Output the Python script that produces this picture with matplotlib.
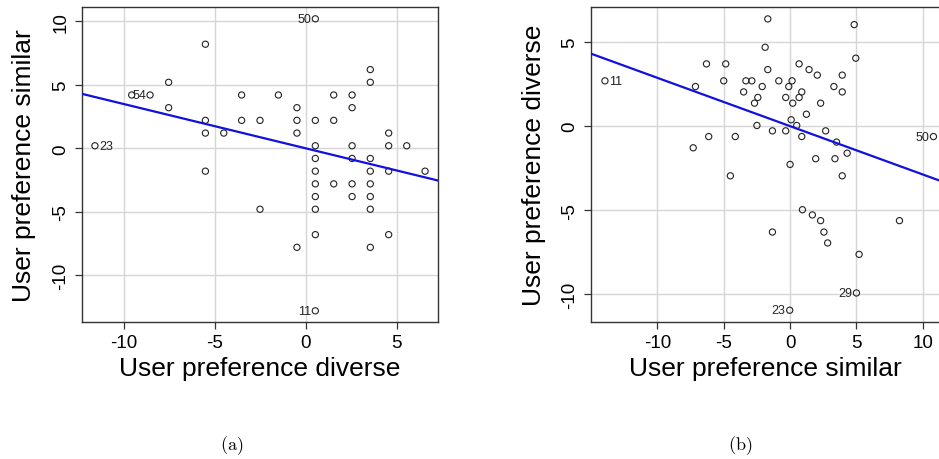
import numpy as np
import matplotlib
matplotlib.use("Agg")
import matplotlib.pyplot as plt

plt.rcParams['font.family'] = ['Liberation Sans', 'DejaVu Sans']
plt.rcParams['mathtext.fontset'] = 'cm'
plt.rcParams['axes.unicode_minus'] = False

# ---------------- data: panel (a) ----------------
a_diverse = [0.53, -5.51, 3.55, 3.55, -7.53, -9.56, -8.55, -3.52, -1.5, 1.54, 2.55,
             -7.53, -0.48, 2.55, -5.51, -3.52, -2.51, -0.48, 0.53, 1.54,
             -5.51, -4.5, -0.48, 4.56, -11.58, 0.53, 2.55, 4.56, 5.55,
             0.53, 2.55, 3.55, -5.51, 0.53, 3.55, 4.56, 6.56,
             0.53, 1.54, 2.55, 3.55, 0.53, 2.55, 3.55,
             -2.51, 0.53, 3.55, 0.53, 4.56, -0.48, 3.55, 0.53]
a_similar = [10.2, 8.2, 6.2, 5.2, 5.2, 4.2, 4.2, 4.2, 4.2, 4.2, 4.2,
             3.2, 3.2, 3.2, 2.2, 2.2, 2.2, 2.2, 2.2, 2.2,
             1.2, 1.2, 1.2, 1.2, 0.2, 0.2, 0.2, 0.2, 0.2,
             -0.8, -0.8, -0.8, -1.8, -1.8, -1.8, -1.8, -1.8,
             -2.8, -2.8, -2.8, -2.8, -3.8, -3.8, -3.8,
             -4.8, -4.8, -4.8, -6.8, -6.8, -7.8, -7.8, -12.8]
a_labels = {0: ("50", "left"), 6: ("54", "left"), 24: ("23", "right"), 51: ("11", "left")}
a_fit = (-0.349, 0.0)   # slope, intercept

# ---------------- data: panel (b) ----------------
b_similar = [-13.95, -1.68, 4.83, -1.88, -6.3, -4.85, 0.68, -1.68, 1.43, 2.05, 3.93, 4.95,
             -5.0, -3.33, -2.88, -0.85, 0.15, -7.13, -2.1, -0.1, 3.3,
             -3.5, 0.88, 3.93, -2.43, -0.33, 0.68, -2.68, 0.2, 2.3,
             1.23, 0.08, -2.5, 0.5, -6.13, -4.13, -1.33, -0.33, 0.88, 2.68, 3.5,
             -7.3, 4.3, 1.93, 3.38, 0.0, -4.5, 3.93, 10.8,
             0.93, 1.68, 2.3, 8.24, -1.33, 2.55, 2.83, 5.2, 5.0, -0.03]
b_diverse = [2.70, 6.39, 6.05, 4.70, 3.71, 3.71, 3.71, 3.37, 3.37, 3.04, 3.04, 4.05,
             2.70, 2.70, 2.70, 2.70, 2.70, 2.36, 2.36, 2.36, 2.36,
             2.04, 2.04, 2.04, 1.71, 1.71, 1.71, 1.37, 1.37, 1.37,
             0.71, 0.38, 0.04, 0.04, -0.62, -0.62, -0.28, -0.28, -0.62, -0.28, -0.95,
             -1.29, -1.61, -1.94, -1.94, -2.28, -2.96, -2.96, -0.62,
             -4.98, -5.29, -5.63, -5.63, -6.31, -6.31, -6.96, -7.64, -9.94, -10.97]
b_labels = {0: ("11", "right"), 48: ("50", "left"), 57: ("29", "left"), 58: ("23", "left")}
b_fit = (-0.288, 0.0)

ticks_a_x = [-10, -5, 0, 5]
ticks_a_y = [-10, -5, 0, 5, 10]
ticks_b_x = [-10, -5, 0, 5, 10]
ticks_b_y = [-10, -5, 0, 5]

W, H = 939, 460
fig = plt.figure(figsize=(W / 100, H / 100), dpi=100)

def px_axes(l, t, r, b):
    return fig.add_axes([l / W, 1 - b / H, (r - l) / W, (b - t) / H])

ax_a = px_axes(82, 8, 438, 323)
ax_b = px_axes(591, 8, 939, 323)

def style(ax, x, y, labels, fit, xt, yt, xlim, ylim, xlabel, ylabel, ylpad):
    ax.set_xlim(*xlim)
    ax.set_ylim(*ylim)
    ax.set_xticks(xt)
    ax.set_yticks(yt)
    ax.grid(True, color='#d6d6d6', linewidth=1.0)
    ax.set_axisbelow(True)
    ax.scatter(x, y, s=20, facecolors='none', edgecolors='#222222', linewidths=0.8, zorder=3)
    ax.axline((0, fit[1]), slope=fit[0], color='#1010e0', linewidth=1.6, zorder=4)
    for i, (txt, side) in labels.items():
        off = -3 if side == "left" else 3
        ax.annotate(txt, (x[i], y[i]), xytext=(off, 0), textcoords='offset points',
                    ha='right' if side == "left" else 'left', va='center',
                    fontsize=9, color='#222222', zorder=5)
    for s in ax.spines.values():
        s.set_color('#333333')
        s.set_linewidth(1.0)
    ax.tick_params(direction='out', length=5, width=0.9, color='#333333',
                   labelsize=13.5, pad=4)
    ax.tick_params(axis='y', labelrotation=90)
    for lab in ax.get_yticklabels():
        lab.set_va('center')
    ax.set_xlabel(xlabel, fontsize=19, labelpad=3)
    ax.set_ylabel(ylabel, fontsize=19, labelpad=ylpad)

style(ax_a, a_diverse, a_similar, a_labels, a_fit, ticks_a_x, ticks_a_y,
      (-12.29, 7.27), (-13.68, 11.13), "User preference diverse", "User preference similar", 12)
style(ax_b, b_similar, b_diverse, b_labels, b_fit, ticks_b_x, ticks_b_y,
      (-15.0, 11.22), (-11.67, 7.1), "User preference similar", "User preference diverse", 11)
ax_b.spines['right'].set_visible(False)

fig.text(232 / W, 1 - 446 / H, r'$\mathrm{(a)}$', ha='center', va='center', fontsize=13)
fig.text(740 / W, 1 - 446 / H, r'$\mathrm{(b)}$', ha='center', va='center', fontsize=13)

fig.savefig("out.png", dpi=100)
